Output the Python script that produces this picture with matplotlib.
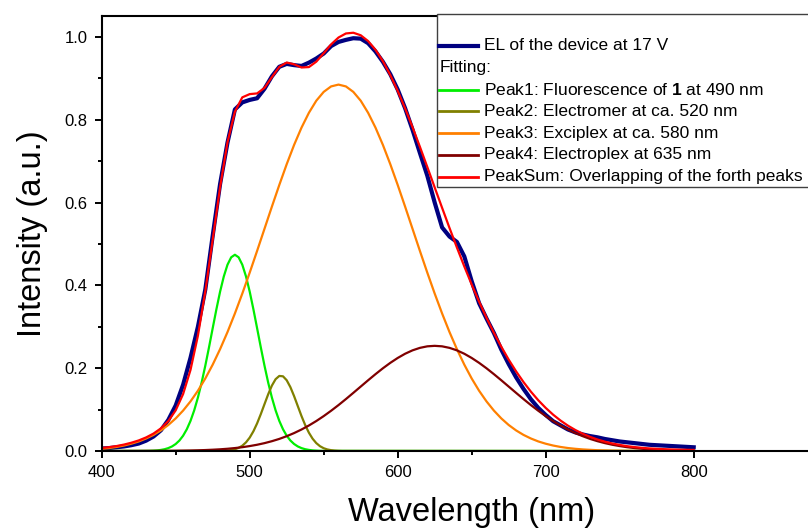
import matplotlib
matplotlib.use('Agg')
import matplotlib.pyplot as plt
from matplotlib.lines import Line2D
from matplotlib.patches import Rectangle
import numpy as np

plt.rcParams['font.family'] = ['Liberation Sans', 'DejaVu Sans']
plt.rcParams['mathtext.fontset'] = 'custom'
plt.rcParams['mathtext.rm'] = 'Liberation Sans'
plt.rcParams['mathtext.bf'] = 'Liberation Sans:bold'

# wavelength grid (nm), 400 ... 800 every 5 nm
wavelength = np.arange(400, 805, 5)

# measured EL spectrum of the device at 17 V
el_device = [0.006, 0.007, 0.009, 0.011, 0.014, 0.018, 0.025, 0.035, 0.050, 0.075,
             0.110, 0.160, 0.225, 0.300, 0.390, 0.520, 0.645, 0.745, 0.825, 0.842,
             0.848, 0.852, 0.875, 0.905, 0.928, 0.935, 0.932, 0.930, 0.938, 0.948,
             0.960, 0.978, 0.988, 0.993, 0.997, 0.996, 0.985, 0.965, 0.940, 0.910,
             0.873, 0.828, 0.776, 0.720, 0.665, 0.600, 0.540, 0.518, 0.505, 0.470,
             0.410, 0.357, 0.320, 0.285, 0.245, 0.210, 0.178, 0.150, 0.125, 0.104,
             0.087, 0.072, 0.062, 0.052, 0.045, 0.040, 0.036, 0.033, 0.029, 0.026,
             0.023, 0.021, 0.019, 0.017, 0.015, 0.014, 0.013, 0.012, 0.011, 0.010,
             0.009]

# fitted peaks 1 and 2 are narrow, so they are read on a 2.5 nm grid
peak1_wl = np.concatenate(([400], np.arange(430, 552.5, 2.5), [800]))
peak1 = [0.0,
         0.0003, 0.0005, 0.0009, 0.0015, 0.0026, 0.0043, 0.0070, 0.0110, 0.0169, 0.0253,
         0.0369, 0.0525, 0.0727, 0.0981, 0.129, 0.1651, 0.206, 0.2504, 0.2966, 0.3423,
         0.385, 0.4216, 0.450, 0.4679, 0.474, 0.4679, 0.450, 0.4216, 0.385, 0.3423,
         0.2966, 0.2504, 0.206, 0.1651, 0.129, 0.0981, 0.0727, 0.0525, 0.0369, 0.0253,
         0.0169, 0.0110, 0.0070, 0.0043, 0.0026, 0.0015, 0.0009, 0.0005, 0.0003,
         0.0]

peak2_wl = np.concatenate(([400], np.arange(480, 565, 2.5), [800]))
peak2 = [0.0,
         0.0002, 0.0005, 0.0011, 0.0022, 0.0042, 0.0075, 0.0128, 0.0209, 0.0323, 0.0476,
         0.0667, 0.0891, 0.1132, 0.1371, 0.1580, 0.1735, 0.1813, 0.1804, 0.1709, 0.1542,
         0.1325, 0.1084, 0.0844, 0.0626, 0.0442, 0.0297, 0.0190, 0.0116, 0.0067, 0.0037,
         0.0020, 0.0010, 0.0005, 0.0002,
         0.0]

# broad peaks 3 and 4 on the 5 nm grid
peak3 = [0.0053, 0.0072, 0.0098, 0.0132, 0.0176, 0.0231, 0.0302, 0.0389, 0.0497, 0.0628,
         0.0787, 0.0976, 0.1198, 0.1455, 0.1751, 0.2086, 0.2461, 0.2873, 0.3322, 0.3802,
         0.4308, 0.4833, 0.5368, 0.5903, 0.6426, 0.6927, 0.7393, 0.7810, 0.8169, 0.8461,
         0.8674, 0.8806, 0.885, 0.8806, 0.8674, 0.8461, 0.8169, 0.7810, 0.7393, 0.6927,
         0.6426, 0.5903, 0.5368, 0.4833, 0.4308, 0.3802, 0.3322, 0.2873, 0.2461, 0.2086,
         0.1751, 0.1455, 0.1198, 0.0976, 0.0787, 0.0628, 0.0497, 0.0389, 0.0302, 0.0231,
         0.0176, 0.0132, 0.0098, 0.0072, 0.0053, 0.0038, 0.0028, 0.0019, 0.0014, 0.0009,
         0.0007, 0.0004, 0.0003, 0.0002, 0.0001, 0.0001, 0.0001, 0.0, 0.0, 0.0,
         0.0]

peak4 = [0.0, 0.0, 0.0, 0.0001, 0.0001, 0.0001, 0.0002, 0.0002, 0.0003, 0.0004,
         0.0006, 0.0009, 0.0012, 0.0017, 0.0023, 0.0031, 0.0041, 0.0054, 0.0071, 0.0092,
         0.0119, 0.0151, 0.0190, 0.0237, 0.0292, 0.0358, 0.0433, 0.0519, 0.0616, 0.0724,
         0.0843, 0.0972, 0.1109, 0.1254, 0.1404, 0.1556, 0.1708, 0.1856, 0.1998, 0.2129,
         0.2247, 0.2349, 0.2431, 0.2491, 0.2528, 0.254, 0.2528, 0.2491, 0.2431, 0.2349,
         0.2247, 0.2129, 0.1998, 0.1856, 0.1708, 0.1556, 0.1404, 0.1254, 0.1109, 0.0972,
         0.0843, 0.0724, 0.0616, 0.0519, 0.0433, 0.0358, 0.0292, 0.0237, 0.0190, 0.0151,
         0.0119, 0.0092, 0.0071, 0.0054, 0.0041, 0.0031, 0.0023, 0.0017, 0.0012, 0.0009,
         0.0006]

baseline = 0.002
# the 5 nm points all lie on the 2.5 nm grids, so this only picks values
peak_sum = (np.interp(wavelength, peak1_wl, peak1) + np.interp(wavelength, peak2_wl, peak2)
            + np.array(peak3) + np.array(peak4) + baseline)

labels = ['EL of the device at 17 V',
          'Peak1: Fluorescence of $\\mathbf{1}$ at 490 nm',
          'Peak2: Electromer at ca. 520 nm',
          'Peak3: Exciplex at ca. 580 nm',
          'Peak4: Electroplex at 635 nm',
          'PeakSum: Overlapping of the forth peaks']
colors = ['#000080', '#00ee00', '#808000', '#ff8000', '#800000', '#ff0000']

W, H = 808, 530
fig = plt.figure(figsize=(W / 100, H / 100), dpi=100)
ax = fig.add_axes([101.7 / W, 79 / H, 740 / W, 435.3 / H])

ax.plot(wavelength, el_device, color=colors[0], lw=3.0)
ax.plot(peak1_wl, peak1, color=colors[1], lw=1.6)
ax.plot(peak2_wl, peak2, color=colors[2], lw=1.6)
ax.plot(wavelength, peak3, color=colors[3], lw=1.6)
ax.plot(wavelength, peak4, color=colors[4], lw=1.6)
ax.plot(wavelength, peak_sum, color=colors[5], lw=1.6)

ax.set_xlim(400, 900)
ax.set_ylim(0, 1.0514)
ax.set_xticks([400, 500, 600, 700, 800])
ax.set_xticks([450, 550, 650, 750], minor=True)
ax.set_yticks([0.0, 0.2, 0.4, 0.6, 0.8, 1.0])
ax.set_yticks([0.1, 0.3, 0.5, 0.7, 0.9], minor=True)
ax.set_yticklabels(['0.0', '0.2', '0.4', '0.6', '0.8', '1.0'])
ax.tick_params(which='major', direction='out', length=5, width=1.4, labelsize=12, pad=5)
ax.tick_params(which='minor', direction='out', length=3, width=1.4)
for s in ax.spines.values():
    s.set_linewidth(1.5)

ax.set_xlabel('Wavelength (nm)', fontsize=23.5, labelpad=12)
ax.set_ylabel('Intensity (a.u.)', fontsize=23.5, labelpad=12)

# legend box drawn by hand (pixel positions -> figure fraction)
def fx(px):
    return px / W

def fy(py):
    return (H - py) / H

box = Rectangle((fx(437.3), fy(186.7)), fx(500), (186.7 - 14) / H,
                transform=fig.transFigure, facecolor='white', edgecolor='#404040',
                lw=1.0, zorder=5)
fig.add_artist(box)

rows = [46 + 21.8 * i for i in range(7)]
entries = [(labels[0], colors[0], 3.0), ('Fitting:', None, 0),
           (labels[1], colors[1], 2.0), (labels[2], colors[2], 2.0),
           (labels[3], colors[3], 2.0), (labels[4], colors[4], 2.0),
           (labels[5], colors[5], 2.0)]
for ry, (txt, c, lw) in zip(rows, entries):
    if c is None:
        fig.text(fx(440), fy(ry), txt, fontsize=12.5, va='center', zorder=6)
        continue
    fig.add_artist(Line2D([fx(439.3), fx(478.3)], [fy(ry), fy(ry)], color=c, lw=lw,
                          transform=fig.transFigure, zorder=6))
    fig.text(fx(484), fy(ry), txt, fontsize=12.5, va='center', zorder=6)

fig.savefig('out.png', dpi=100)
